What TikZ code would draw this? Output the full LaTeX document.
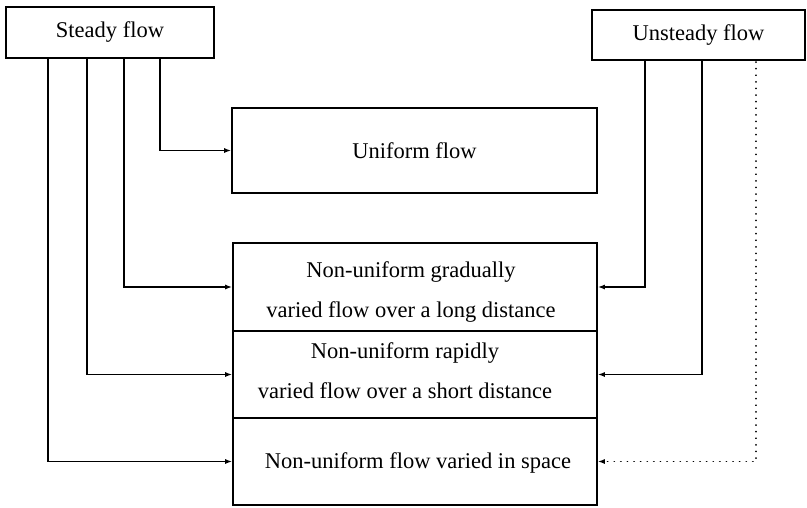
\documentclass[tikz,border=0pt]{standalone}
\usepackage{fontspec}
\setmainfont{Liberation Serif}
\usetikzlibrary{arrows.meta}
\begin{document}
\begin{tikzpicture}[x=1pt,y=1pt,
  txt/.style={font=\fontsize{22.5}{40}\selectfont, align=center},
  box/.style={draw, line width=1.6pt, inner sep=0pt, txt},
  arr/.style={line width=1.5pt, -{Latex[length=7pt,width=5pt]}},
  darr/.style={line width=1.8pt, line cap=round, dash pattern=on 0.1pt off 6.5pt, -{Latex[length=7pt,width=5pt]}}]
\useasboundingbox (0,0) rectangle (807,-507);
\node[box, minimum width=208pt, minimum height=51pt] (steady) at (110,-32.5) {Steady flow};
\node[box, minimum width=213pt, minimum height=50pt] (unsteady) at (698.5,-35) {Unsteady flow};
\node[box, minimum width=365pt, minimum height=85pt] (uniform) at (414.5,-150.5) {Uniform flow};
\node[box, minimum width=364pt, minimum height=88pt] (row1) at (415,-287) {};
\node[box, minimum width=364pt, minimum height=87pt] (row2) at (415,-374.5) {};
\node[box, minimum width=364pt, minimum height=87pt] (row3) at (415,-461.5) {};
\node[txt] (t1) at (411,-292) {Non-uniform gradually\\varied flow over a long distance};
\node[txt] (t2) at (405,-371) {Non-uniform rapidly\\varied flow over a short distance};
\node[txt] (t3) at (418,-463) {Non-uniform flow varied in space};
\coordinate (s1) at (160,-58);
\coordinate (s2) at (124,-58);
\coordinate (s3) at (87,-58);
\coordinate (s4) at (48,-58);
\coordinate (u1) at (645,-60);
\coordinate (u2) at (702,-60);
\coordinate (u3) at (756,-62);
\draw[arr] (s1) |- (uniform.west);
\draw[arr] (s2) |- (row1.west);
\draw[arr] (s3) |- (row2.west);
\draw[arr] (s4) |- (row3.west);
\draw[arr] (u1) |- (row1.east);
\draw[arr] (u2) |- (row2.east);
\draw[darr] (u3) |- (row3.east);
\end{tikzpicture}
\end{document}
